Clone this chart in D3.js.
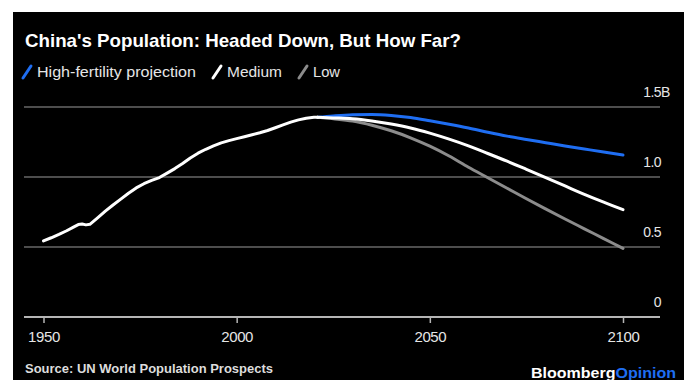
<!DOCTYPE html>
<html>
<head>
<meta charset="utf-8">
<script src="https://cdn.jsdelivr.net/npm/d3@7"></script>
<style>
  html, body { margin: 0; padding: 0; background: #fff; }
  svg { display: block; }
  text { font-family: "Liberation Sans", Arial, sans-serif; }
</style>
</head>
<body>
<svg id="chart" width="688" height="380"></svg>
<script>
// China's population, billions (UN World Population Prospects)
const histYears = [1950, 1952, 1954, 1956, 1958, 1959, 1960, 1961, 1962, 1964, 1966, 1968, 1970, 1972, 1974, 1976, 1978, 1980, 1982, 1984, 1986, 1988, 1990, 1992, 1994, 1996, 1998, 2000, 2002, 2004, 2006, 2008, 2010, 2012, 2014, 2016, 2018, 2020, 2021];
const histValues = [0.544, 0.566, 0.590, 0.616, 0.646, 0.660, 0.664, 0.658, 0.662, 0.708, 0.756, 0.800, 0.842, 0.884, 0.922, 0.952, 0.976, 0.996, 1.028, 1.060, 1.096, 1.136, 1.170, 1.198, 1.222, 1.244, 1.260, 1.274, 1.288, 1.302, 1.316, 1.332, 1.352, 1.372, 1.392, 1.408, 1.420, 1.426, 1.426];

const projYears = [2021, 2025, 2030, 2035, 2040, 2045, 2050, 2055, 2060, 2065, 2070, 2075, 2080, 2085, 2090, 2095, 2100];
const highValues = [1.426, 1.436, 1.445, 1.447, 1.440, 1.425, 1.402, 1.377, 1.350, 1.320, 1.292, 1.268, 1.245, 1.222, 1.200, 1.178, 1.157];
const mediumValues = [1.426, 1.422, 1.416, 1.400, 1.378, 1.350, 1.313, 1.270, 1.222, 1.168, 1.113, 1.055, 0.996, 0.936, 0.876, 0.820, 0.767];
const lowValues = [1.426, 1.416, 1.400, 1.370, 1.330, 1.280, 1.220, 1.150, 1.070, 0.995, 0.920, 0.845, 0.772, 0.700, 0.630, 0.560, 0.490];

const legendLabels = ["High-fertility projection", "Medium", "Low"];
const xTicks = [1950, 2000, 2050, 2100];
const yTicks = [0, 0.5, 1.0, 1.5];

const BLUE = "#1f6ef2", GREY = "#8c8c8c", WHITE = "#ffffff";

const svg = d3.select("#chart");

svg.append("rect")
  .attr("x", 13).attr("y", 12)
  .attr("width", 671).attr("height", 368)
  .attr("fill", "#000");

const x = d3.scaleLinear().domain([1950, 2100]).range([43.5, 623]);
const y = d3.scaleLinear().domain([0, 1.5]).range([317, 107]);
const plotLeft = 24, plotRight = 660;

// Horizontal gridlines
svg.append("g")
  .selectAll("line")
  .data(yTicks.filter(d => d > 0))
  .join("line")
  .attr("x1", plotLeft).attr("x2", plotRight)
  .attr("y1", d => y(d)).attr("y2", d => y(d))
  .attr("stroke", "#4d4d4d")
  .attr("stroke-width", 2);

// Y axis labels sit above their gridlines, right-aligned
const yAxis = d3.axisRight(y)
  .tickValues(yTicks)
  .tickSize(0)
  .tickPadding(0)
  .tickFormat(d => d === 0 ? "0" : d3.format(".1f")(d));

const yg = svg.append("g")
  .attr("transform", `translate(${plotRight + 1},0)`)
  .call(yAxis);
yg.select(".domain").remove();
yg.selectAll("text")
  .attr("text-anchor", "end")
  .attr("dominant-baseline", "middle")
  .attr("dy", null)
  .attr("y", -14)
  .attr("fill", "#e6e6e6")
  .style("font-size", "14px")
  .style("letter-spacing", "-0.6px");

// unit suffix after the top label
svg.append("text")
  .attr("x", plotRight + 1)
  .attr("y", y(1.5) - 14)
  .attr("dominant-baseline", "middle")
  .attr("fill", "#e6e6e6")
  .style("font-size", "14px")
  .text("B");

// X axis
const xAxis = d3.axisBottom(x)
  .tickValues(xTicks)
  .tickSize(6)
  .tickPadding(8)
  .tickFormat(d3.format("d"));

const xg = svg.append("g")
  .attr("transform", `translate(0,${y(0)})`)
  .call(xAxis);
xg.select(".domain").remove();
xg.selectAll(".tick line").attr("stroke", "#b5b5b5").attr("stroke-width", 1.5);
xg.selectAll("text")
  .attr("fill", "#e6e6e6")
  .style("font-size", "15px")
  .style("letter-spacing", "-0.4px");

svg.append("line")
  .attr("x1", plotLeft).attr("x2", plotRight)
  .attr("y1", y(0)).attr("y2", y(0))
  .attr("stroke", "#b5b5b5")
  .attr("stroke-width", 2);

// Series lines
const smooth = d3.line()
  .x(d => x(d[0]))
  .y(d => y(d[1]))
  .curve(d3.curveMonotoneX);
const straight = d3.line()
  .x(d => x(d[0]))
  .y(d => y(d[1]));

const series = [
  { years: projYears, values: highValues, color: BLUE, gen: smooth },
  { years: projYears, values: lowValues, color: GREY, gen: smooth },
  { years: projYears, values: mediumValues, color: WHITE, gen: smooth },
  { years: histYears, values: histValues, color: WHITE, gen: straight }
];

svg.append("g")
  .selectAll("path")
  .data(series)
  .join("path")
  .attr("d", s => s.gen(s.years.map((yr, i) => [yr, s.values[i]])))
  .attr("fill", "none")
  .attr("stroke", s => s.color)
  .attr("stroke-width", 3)
  .attr("stroke-linecap", "round")
  .attr("stroke-linejoin", "round");

// Title
svg.append("text")
  .attr("x", 25).attr("y", 47)
  .attr("fill", "#ffffff")
  .style("font-size", "19px")
  .style("font-weight", "bold")
  .attr("textLength", 436)
  .attr("lengthAdjust", "spacingAndGlyphs")
  .text("China's Population: Headed Down, But How Far?");

// Legend
const legendItems = [
  { label: legendLabels[0], color: BLUE, sx: 23, tx: 37, w: 159 },
  { label: legendLabels[1], color: WHITE, sx: 213, tx: 227, w: 55 },
  { label: legendLabels[2], color: GREY, sx: 299, tx: 313, w: 27 }
];
const lg = svg.append("g");
legendItems.forEach(it => {
  lg.append("line")
    .attr("x1", it.sx).attr("y1", 78)
    .attr("x2", it.sx + 8).attr("y2", 66)
    .attr("stroke", it.color)
    .attr("stroke-width", 3)
    .attr("stroke-linecap", "round");
  lg.append("text")
    .attr("x", it.tx).attr("y", 77)
    .attr("fill", "#e6e6e6")
    .style("font-size", "14px")
    .attr("textLength", it.w)
    .attr("lengthAdjust", "spacingAndGlyphs")
    .text(it.label);
});

// Source and brand
svg.append("text")
  .attr("x", 25).attr("y", 373)
  .attr("fill", "#dddddd")
  .style("font-size", "13px")
  .style("font-weight", "bold")
  .attr("textLength", 248)
  .attr("lengthAdjust", "spacingAndGlyphs")
  .text("Source: UN World Population Prospects");

const brand = svg.append("text")
  .attr("x", 531).attr("y", 378)
  .style("font-size", "15px")
  .style("font-weight", "bold")
  .attr("textLength", 145)
  .attr("lengthAdjust", "spacingAndGlyphs");
brand.append("tspan").attr("fill", WHITE).text("Bloomberg");
brand.append("tspan").attr("fill", BLUE).text("Opinion");
</script>
</body>
</html>
